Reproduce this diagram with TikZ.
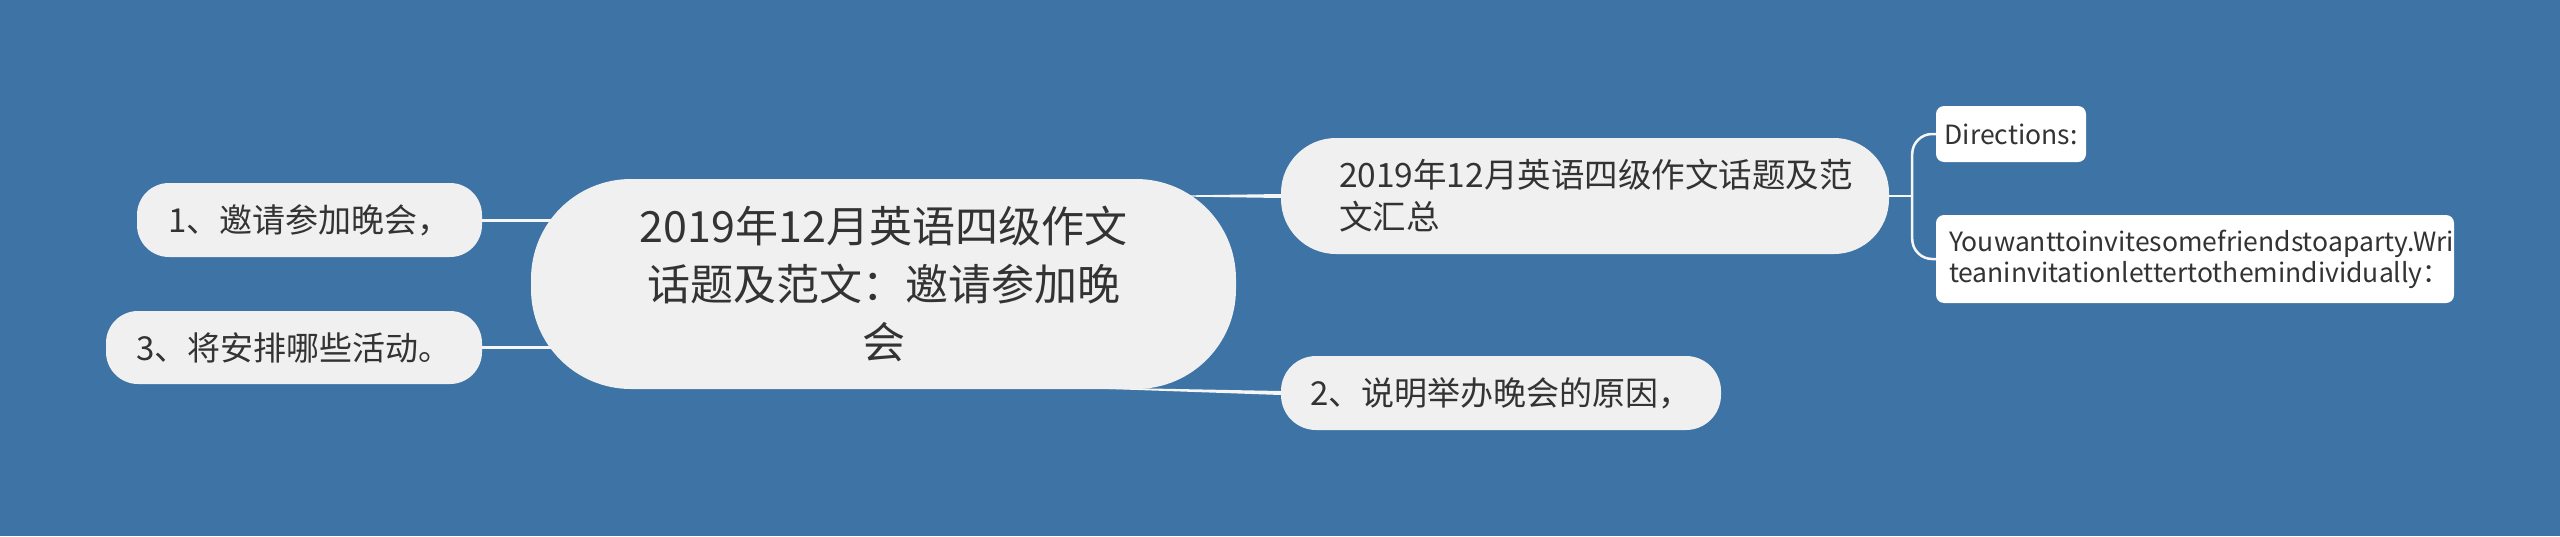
\documentclass[tikz,border=0pt]{standalone}
\usepackage{fontspec}
\setmainfont{Noto Sans CJK SC}
\usetikzlibrary{calc}

\definecolor{bgblue}{RGB}{62,115,166}
\definecolor{topicgray}{RGB}{240,240,240}
\definecolor{textgray}{RGB}{51,51,51}
\definecolor{linkwhite}{RGB}{246,246,246}

\pgfdeclarelayer{back}
\pgfdeclarelayer{links}
\pgfsetlayers{back,links,main}

\tikzset{
	topic/.style = {fill = topicgray, text = textgray, inner sep = 0pt},
	leaf/.style = {fill = white, text = textgray, inner sep = 0pt, rounded corners = 8pt},
	link/.style = {draw = linkwhite, line width = 3pt},
}

\begin{document}
\begin{tikzpicture}[x = 1pt, y = -1pt]

	\begin{pgfonlayer}{back}
		\fill[bgblue] (0,0) rectangle (2560,536);
	\end{pgfonlayer}
	\useasboundingbox (0,0) rectangle (2560,536);

	% centre
	\node[
		topic,
		rounded corners = 100pt,
		minimum width = 705pt,
		minimum height = 210pt,
		align = center,
		font = \fontsize{43}{58}\selectfont,
		name = main,
	] at (883.5,284) {2019年12月英语四级作文\\话题及范文：邀请参加晚\\会};

	% left side
	\node[
		topic,
		rounded corners = 32pt,
		minimum width = 345pt,
		minimum height = 74pt,
		font = \fontsize{33}{40}\selectfont,
		name = invite,
	] at (309.5,220) {1、邀请参加晚会，};

	\node[
		topic,
		rounded corners = 32pt,
		minimum width = 376pt,
		minimum height = 73pt,
		font = \fontsize{33}{40}\selectfont,
		name = activity,
	] at (294,347.5) {3、将安排哪些活动。};

	% right side
	\node[
		topic,
		rounded corners = 55pt,
		minimum width = 608pt,
		minimum height = 116pt,
		inner xsep = 58pt,
		text width = 492pt,
		align = left,
		font = \fontsize{33.5}{42}\selectfont,
		name = summary,
	] at (1585,196) {2019年12月英语四级作文话题及范\\文汇总};

	\node[
		topic,
		rounded corners = 35pt,
		minimum width = 440pt,
		minimum height = 74pt,
		font = \fontsize{33}{40}\selectfont,
		name = reason,
	] at (1501,393) {2、说明举办晚会的原因，};

	\node[
		leaf,
		minimum width = 150pt,
		minimum height = 56pt,
		font = \fontsize{26.5}{31}\selectfont,
		name = directions,
	] at (2011,134) {Directions:};

	\node[
		leaf,
		minimum width = 518pt,
		minimum height = 88pt,
		inner xsep = 13pt,
		text width = 492pt,
		align = left,
		font = \fontsize{26.5}{31}\selectfont,
		name = task,
	] at (2195,259) {Youwanttoinvitesomefriendstoaparty.Wri\\teaninvitationlettertothemindividually：};

	\begin{pgfonlayer}{links}
		\draw[link] (invite.east) -- (invite.east -| main.center);
		\draw[link] (activity.east) -- (activity.east -| main.center);

		\coordinate (sumin) at ($(summary.west -| main.east)+(-50,0)$);
		\fill[linkwhite]
			([yshift = 2pt]summary.west) -- ([yshift = 0.6pt]sumin)
			-- ([yshift = -0.6pt]sumin) -- ([yshift = -2pt]summary.west) -- cycle;

		\coordinate (reasonin) at ($(main.south)+(220,-1)$);
		\fill[linkwhite]
			([yshift = 2pt]reason.west) -- ([yshift = 0.6pt]reasonin)
			-- ([yshift = -0.6pt]reasonin) -- ([yshift = -2pt]reason.west) -- cycle;

		\coordinate (fork) at ($(summary.east)+(23,0)$);
		\draw[link, line width = 2.5pt] (summary.east) -- (fork);
		\draw[link, line width = 2.5pt, rounded corners = 20pt]
			(directions.west) -| (fork) |- (task.west);
	\end{pgfonlayer}

\end{tikzpicture}
\end{document}
